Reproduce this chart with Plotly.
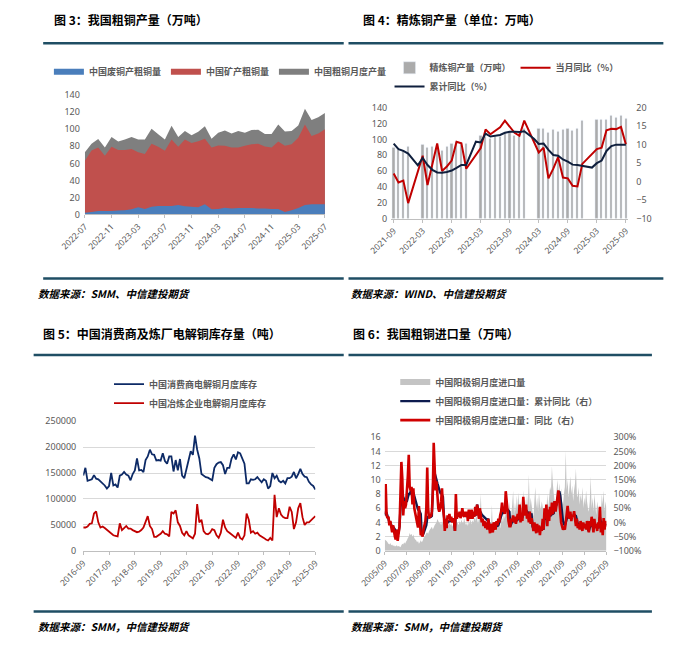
import plotly.graph_objects as go

W, H = 676, 648


def X(px):
    return px / W


def Y(py):
    return 1 - py / H


def month_labels(year, month, n, sep):
    out = []
    for _ in range(n):
        out.append(f"{year}{sep}{month:02d}")
        month += 1
        if month > 12:
            month = 1
            year += 1
    return out


# ---------------- 图3 我国粗铜产量（万吨） ----------------
fig3_months = month_labels(2022, 7, 37, "-")
fig3_scrap = [2, 3, 4, 4, 4, 4.5, 5, 6, 8.5, 6.5, 9, 10, 10, 10, 11, 9.5, 9, 8.5, 12, 6,
              6.5, 8, 7, 7.5, 7.5, 7.5, 7, 7, 6.5, 6.5, 3, 5, 7.5, 11, 12, 12, 12]
fig3_mine = [63, 75, 78.6, 69, 79.4, 75.6, 75.6, 76.7, 73, 71, 83, 79.4, 74.8, 88, 79.4, 88, 84, 86, 89, 78.6,
             81, 80.6, 78.6, 78.6, 80.6, 82.5, 83, 79.8, 78.6, 85.5, 80.6, 82.5, 90, 105.5, 92, 95, 100]
fig3_total = [72.9, 83, 88.5, 78.6, 91, 85.5, 88, 91, 88, 88, 100.5, 94, 88, 104, 91, 98, 93, 97, 103.5, 89,
              96, 98.5, 95, 98, 96, 99, 99.5, 94.5, 94.5, 105.5, 97.5, 98, 104.5, 124, 111, 114, 119]
fig3_ticks = fig3_months[::4]

# ---------------- 图4 精炼铜产量 ----------------
fig4_months = month_labels(2021, 9, 49, "-")
fig4_output = [89, 87, 86, 91, None, None, 93, 89, 91, 93, 86, 91, 94, 97, 96, 95,
               None, None, 105, 103, 101, 104, 103, 108, 110, 105, 109, 114,
               None, None, 114, 113, 109, 112, 110, 112, 113, 111, 113, 124,
               None, None, 125, 125, 125, 130, 127, 130, 126]
fig4_yoy = [2.2, -0.2, 0.3, -5.8, None, None, 7.0, -0.9, 4.7, 10.3, 2.9, 4.1, 5.7, 10.8, 10.4, 3.5,
            None, None, 9.1, 14.1, 12.8, 13.7, 14.7, 16.5, 14.7, 13.2, 12.4, 16.5,
            None, None, 7.9, 9.2, 0.9, 3.5, 6.6, 1.1, 0.9, -1.1, -1.3, 4.8,
            None, None, 8.8, 9.2, 13.9, 14.3, 14.2, 14.8, 10.1]
fig4_cum = [10.3, 8.8, 8.3, 7.6, None, 4.4, 6.4, 4.5, 3.2, 2.5, 2.4, 2.6, 3.0, 3.7, 4.5, 4.5,
            None, 10.8, 10.6, 13.0, 12.2, 12.4, 12.6, 13.2, 13.5, 13.5, 13.4, 13.6,
            None, 11.6, 10.2, 10.3, 8.6, 7.2, 7.0, 6.0, 5.4, 4.6, 4.5, 4.2,
            None, 3.8, 5.0, 5.7, 8.3, 9.6, 10.0, 10.1, 10.0]
fig4_ticks = fig4_months[::6]

# ---------------- 图5 电解铜库存（吨） ----------------
fig5_months = month_labels(2016, 9, 109, "-")
fig5_consumer = [
    145000, 160000, 135000, 137000,
    138000, 146000, 139000, 138000, 134000, 130000, 126000, 120000, 125000, 150000, 126000, 128000,
    122000, 145000, 147000, 152000, 147000, 145000, 136000, 148000, 155000, 178000, 155000, 156000,
    152000, 175000, 182000, 195000, 186000, 185000, 174000, 175000, 174000, 188000, 173000, 168000,
    182000, 182000, 153000, 175000, 155000, 177000, 145000, 140000, 158000, 175000, 192000, 185000,
    222000, 195000, 178000, 148000, 144000, 142000, 141000, 138000, 136000, 160000, 167000, 170000,
    171000, 165000, 148000, 160000, 160000, 178000, 186000, 176000, 190000, 188000, 176000, 168000,
    130000, 130000, 138000, 137000, 138000, 142000, 137000, 132000, 138000, 135000, 120000, 125000,
    150000, 140000, 145000, 135000, 132000, 135000, 130000, 140000, 140000, 143000, 152000, 140000,
    148000, 158000, 148000, 143000, 142000, 133000, 128000, 125000, 118000]
fig5_smelter = [
    45000, 45000, 47000, 52000,
    53000, 72000, 76000, 55000, 45000, 47000, 44000, 40000, 36000, 33000, 30000, 29000,
    28000, 53000, 40000, 44000, 48000, 43000, 43000, 40000, 38000, 36000, 37000, 40000,
    45000, 55000, 67000, 48000, 42000, 27000, 27000, 30000, 33000, 38000, 33000, 32000,
    28000, 75000, 72000, 78000, 55000, 48000, 35000, 30000, 38000, 30000, 26000, 24000,
    33000, 90000, 55000, 60000, 38000, 33000, 32000, 35000, 42000, 40000, 30000, 25000,
    35000, 60000, 45000, 38000, 35000, 32000, 28000, 25000, 35000, 25000, 22000, 30000,
    72000, 60000, 35000, 38000, 33000, 35000, 30000, 28000, 25000, 22000, 20000, 25000,
    20000, 108000, 65000, 82000, 70000, 65000, 63000, 63000, 85000, 75000, 42000, 55000,
    82000, 92000, 65000, 50000, 55000, 55000, 60000, 63000, 67000]
fig5_ticks = fig5_months[::12]

# ---------------- 图6 我国粗铜进口量（万吨） ----------------
fig6_months = month_labels(2005, 9, 241, "/")
fig6_import = [
    1.6, 1.5, 1.4, 1.2,
    1.0, 0.9, 1.1, 0.8, 0.9, 0.7, 0.8, 0.6, 0.7, 0.8, 0.6, 0.7,
    0.6, 0.5, 0.8, 1.0, 0.9, 1.2, 1.0, 1.3, 1.5, 1.8, 2.0, 2.5,
    2.2, 2.4, 2.0, 2.3, 1.8, 1.6, 1.5, 1.2, 1.4, 1.0, 1.2, 1.5,
    1.2, 1.4, 1.8, 2.0, 2.2, 2.5, 2.6, 2.4, 2.8, 3.0, 3.2, 3.4,
    3.0, 3.3, 3.6, 3.8, 4.0, 4.5, 4.2, 3.9, 4.0, 3.6, 4.2, 3.8,
    3.5, 3.0, 3.6, 3.2, 3.8, 3.5, 4.0, 3.6, 3.9, 3.4, 3.7, 4.2,
    3.2, 4.5, 3.8, 4.0, 3.6, 4.2, 3.8, 4.4, 4.0, 3.9, 4.6, 4.0,
    3.6, 4.0, 3.5, 4.2, 3.8, 4.5, 3.7, 4.3, 4.0, 4.8, 4.2, 5.0,
    4.5, 3.8, 4.6, 5.2, 8.0, 4.2, 4.8, 3.6, 4.0, 3.8, 4.2, 3.5,
    3.4, 3.0, 3.6, 3.2, 6.5, 3.0, 3.5, 3.2, 2.8, 3.6, 3.2, 4.0,
    3.6, 3.2, 4.2, 4.8, 4.0, 5.2, 4.5, 5.5, 4.8, 6.0, 5.0, 7.0,
    4.5, 5.2, 6.5, 8.5, 5.0, 6.8, 5.5, 7.8, 6.0, 8.2, 5.5, 7.0,
    6.0, 5.0, 8.5, 6.5, 7.2, 5.5, 8.0, 6.2, 10.8, 6.0, 7.5, 6.5,
    5.5, 4.8, 7.0, 9.0, 6.0, 7.5, 5.5, 8.2, 6.5, 5.8, 7.0, 6.2,
    5.2, 4.6, 6.5, 5.8, 8.0, 6.0, 7.5, 9.0, 8.5, 11.9, 9.5, 8.0,
    7.0, 6.5, 8.5, 10.0, 8.0, 9.5, 7.5, 8.8, 7.0, 6.5, 8.0, 9.0,
    14.1, 8.5, 10.0, 7.5, 9.0, 10.5, 8.0, 9.2, 7.0, 8.5, 9.5, 11.6,
    8.0, 7.5, 9.0, 6.5, 8.0, 7.0, 9.0, 6.0, 7.5, 6.5, 8.5, 7.0,
    6.0, 5.5, 7.0, 10.5, 6.0, 7.5, 5.5, 8.0, 6.5, 5.0, 7.0, 6.0,
    5.5, 6.5, 5.0, 8.0, 6.5, 8.5, 5.5, 7.0, 6.0]
fig6_cum_yoy = [
    25, 38, 33, 25,
    13, 0, 0, -8, -15, -15, -20, -25, -30, -30, -35, -35,
    -13, 50, 100, 113, 88, 83, 75, 73, 75, 88, 100, 100,
    113, 120, 100, 105, 93, 80, 70, 58, 45, 45, 38, 30,
    -40, -45, -38, -30, -23, -10, 15, 20, 20, 20, 20, 23,
    100, 188, 175, 155, 150, 138, 125, 113, 105, 103, 98, 90,
    25, -3, 3, -5, 0, 3, 5, 5, 8, 8, 8, 8,
    -30, 38, 28, 28, 25, 28, 25, 25, 28, 28, 28, 28,
    20, 28, 20, 25, 25, 23, 25, 25, 25, 25, 28, 28,
    63, 45, 35, 38, 35, 28, 25, 20, 18, 13, 13, 8,
    13, -5, -18, -15, -15, -18, -15, -15, -15, -13, -13, -10,
    0, 13, 20, 33, 33, 35, 35, 45, 48, 45, 40, 38,
    -13, 0, 3, 8, 5, 8, 5, 8, 10, 10, 15, 13,
    25, 15, 40, 40, 38, 43, 38, 35, 33, 33, 28, 28,
    -13, -23, -15, -18, -20, -18, -20, -20, -23, -20, -23, -18,
    -25, 13, 13, 25, 18, 23, 20, 25, 25, 30, 30, 33,
    75, 55, 63, 80, 100, 110, 95, 63, 25, 5, -5, -10,
    0, 13, 25, 25, 23, 25, 23, 23, 23, 25, 25, 23,
    13, -5, -5, -10, -8, -8, -10, -10, -10, -10, -10, -10,
    -25, -30, -18, -15, -10, -13, -15, -13, -13, -13, -15, -13,
    -20, 18, 0, 0, -10, -5, -10, -8, -10]
fig6_yoy = [
    30, 135, 25, 15,
    20, -10, 5, -25, -35, -10, -40, -50, -60, -25, -65, -38,
    -13, 100, 213, 155, 25, 75, 50, 63, 100, 163, 238, 125,
    113, 125, 63, 120, 50, 30, 13, 0, -18, 58, -25, -45,
    -40, -50, -25, -13, 5, 50, 193, 50, 13, 25, 20, 38,
    100, 280, 150, 113, 145, 75, 50, 38, 50, 75, 120, 50,
    25, -30, 13, -20, 25, 13, 30, 5, 20, 0, 15, 5,
    -30, 100, 13, 25, 20, 38, 15, 30, 50, 25, 20, 38,
    20, 38, 5, 45, 25, 13, 45, 13, 38, 20, 55, 25,
    63, 30, 13, 50, 25, 0, 13, -13, 5, -20, 0, -25,
    13, -25, -38, -5, -20, -35, 0, -13, -25, 5, -10, 13,
    0, 25, 38, 70, 38, 50, 30, 110, 63, 25, 5, -13,
    -13, 13, 5, 25, 0, 20, -5, 13, 30, 10, 63, 0,
    25, 5, 90, 38, 25, 63, 13, 30, 0, 38, -5, 15,
    -13, -30, 0, -20, -38, -5, -35, -10, -45, -15, -30, 13,
    -25, 50, 13, 63, -13, 45, 5, 55, 25, 70, 30, 50,
    75, 38, 63, 95, 113, 75, 25, 0, -13, -25, -20, -25,
    0, 25, 58, 25, 13, 38, 5, 25, 20, 40, 13, -13,
    13, -20, -5, -25, 5, -13, -30, 0, -20, -5, -25, 5,
    -25, -35, 5, -13, 20, -25, -35, 13, -20, -5, -30, 0,
    -20, 55, -35, 0, -45, 15, -25, 5, -15]
fig6_ticks = fig6_months[::24]

# ---------------- styles ----------------
CJK = "Noto Sans CJK SC"
NUM = "Noto Sans, Noto Sans CJK SC"
TICKFONT = dict(family=NUM, size=9, color="#595959")
XTICKFONT = dict(family=NUM, size=8.5, color="#595959")
LEGFONT = dict(family=CJK, size=9, color="#595959", weight="bold")
AXLINE = "#BFBFBF"
RED = "#C00000"
NAVY = "#0F1F3D"
RULE = "#1F4E64"

fig = go.Figure()

# 图3 areas (drawn back to front)
fig.add_trace(go.Scatter(x=fig3_months, y=fig3_total, name="中国粗铜月度产量", mode="none",
                         fill="tozeroy", fillcolor="#7F7F7F", xaxis="x", yaxis="y",
                         legend="legend", legendrank=3))
fig.add_trace(go.Scatter(x=fig3_months, y=fig3_mine, name="中国矿产粗铜量", mode="none",
                         fill="tozeroy", fillcolor="#C0504D", xaxis="x", yaxis="y",
                         legend="legend", legendrank=2))
fig.add_trace(go.Scatter(x=fig3_months, y=fig3_scrap, name="中国废铜产粗铜量", mode="none",
                         fill="tozeroy", fillcolor="#4A7EBB", xaxis="x", yaxis="y",
                         legend="legend", legendrank=1))

# 图4
fig.add_trace(go.Bar(x=fig4_months, y=fig4_output, name="精炼铜产量（万吨）", marker_color="#ABABAB",
                     width=0.45, xaxis="x2", yaxis="y2", legend="legend2"))
fig.add_trace(go.Scatter(x=fig4_months, y=fig4_yoy, name="当月同比（%）", mode="lines",
                         line=dict(color=RED, width=2), connectgaps=True,
                         xaxis="x2", yaxis="y3", legend="legend2"))
fig.add_trace(go.Scatter(x=fig4_months, y=fig4_cum, name="累计同比（%）", mode="lines",
                         line=dict(color=NAVY, width=2), connectgaps=True,
                         xaxis="x2", yaxis="y3", legend="legend3"))

# 图5
fig.add_trace(go.Scatter(x=fig5_months, y=fig5_consumer, name="中国消费商电解铜月度库存", mode="lines",
                         line=dict(color="#0D2A66", width=1.8), xaxis="x3", yaxis="y4", legend="legend4"))
fig.add_trace(go.Scatter(x=fig5_months, y=fig5_smelter, name="中国冶炼企业电解铜月度库存", mode="lines",
                         line=dict(color=RED, width=1.8), xaxis="x3", yaxis="y4", legend="legend4"))

# 图6
fig.add_trace(go.Scatter(x=fig6_months, y=fig6_import, name="中国阳极铜月度进口量", mode="none",
                         fill="tozeroy", fillcolor="#C4C4C4", xaxis="x4", yaxis="y5", legend="legend5"))
fig.add_trace(go.Scatter(x=fig6_months, y=fig6_cum_yoy, name="中国阳极铜月度进口量：累计同比（右）",
                         mode="lines", line=dict(color="#0D1B4F", width=2.4),
                         xaxis="x4", yaxis="y6", legend="legend5"))
fig.add_trace(go.Scatter(x=fig6_months, y=fig6_yoy, name="中国阳极铜月度进口量：同比（右）",
                         mode="lines", line=dict(color="#D00000", width=2.6),
                         xaxis="x4", yaxis="y6", legend="legend5"))


def xax(domain, anchor, rng, ticks):
    return dict(domain=domain, anchor=anchor, type="category", range=rng, tickvals=ticks, ticktext=ticks,
                tickangle=-45, tickfont=XTICKFONT, showgrid=False, zeroline=False,
                showline=True, linecolor=AXLINE, linewidth=1, ticks="outside", ticklen=3,
                tickcolor=AXLINE, fixedrange=True)


def yax(domain, anchor, rng, dtick, grid=False, **kw):
    d = dict(domain=domain, anchor=anchor, range=rng, dtick=dtick, tickfont=TICKFONT,
             showgrid=grid, gridcolor="#D9D9D9", gridwidth=1, zeroline=False, showline=False,
             ticks="", fixedrange=True)
    d.update(kw)
    return d


annotations = []
shapes = []


def title(px, py, text):
    annotations.append(dict(text=text, x=X(px), y=Y(py), xref="paper", yref="paper",
                            xanchor="left", yanchor="middle", showarrow=False,
                            font=dict(family=CJK, size=12, color="#000000", weight="bold")))


def source(px, py, text):
    annotations.append(dict(text=text, x=X(px), y=Y(py), xref="paper", yref="paper",
                            xanchor="left", yanchor="middle", showarrow=False,
                            font=dict(family=CJK, size=10.5, color="#000000", weight="bold",
                                      style="italic")))


def rule(x0, x1, py):
    shapes.append(dict(type="line", xref="paper", yref="paper", x0=X(x0), x1=X(x1),
                       y0=Y(py), y1=Y(py), line=dict(color=RULE, width=2.5)))


title(27, 13, "图 3：我国粗铜产量（万吨）")
title(351, 13, "图 4：精炼铜产量（单位：万吨）")
title(16, 333, "图 5：中国消费商及炼厂电解铜库存量（吨）")
title(341, 333, "图 6：我国粗铜进口量（万吨）")

source(10, 292, "数据来源：SMM、中信建投期货")
source(338, 292, "数据来源：WIND、中信建投期货")
source(10, 632, "数据来源：SMM，中信建投期货")
source(338, 632, "数据来源：SMM，中信建投期货")

rule(18, 333, 37)
rule(338, 668, 37)
rule(18, 333, 277)
rule(338, 668, 277)
rule(8, 333, 355)
rule(338, 656, 355)
rule(8, 333, 617)
rule(338, 656, 617)


def legend(px, py, orient="h", yanchor="middle"):
    return dict(x=X(px), y=Y(py), xanchor="left", yanchor=yanchor, orientation=orient,
                font=LEGFONT, bgcolor="rgba(0,0,0,0)", traceorder="normal",
                itemclick=False, itemdoubleclick=False, tracegroupgap=0)


fig.update_layout(
    width=W, height=H, autosize=False,
    margin=dict(l=0, r=0, t=0, b=0),
    paper_bgcolor="#FFFFFF", plot_bgcolor="rgba(0,0,0,0)",
    font=dict(family=CJK, color="#595959"),
    showlegend=True,
    xaxis=xax([X(61.7), X(313.3)], "y", [0, 36], fig3_ticks),
    yaxis=yax([Y(211.7), Y(90)], "x", [0, 140], 20, ticklabelstandoff=4),
    xaxis2=xax([X(382.8), X(631.2)], "y2", [-0.5, 48.5], fig4_ticks),
    yaxis2=yax([Y(216), Y(102.7)], "x2", [0, 140], 20, ticklabelstandoff=3),
    yaxis3=yax([Y(216), Y(102.7)], "x2", [-10, 20], 5, overlaying="y2", side="right",
               ticklabelstandoff=7),
    xaxis3=xax([X(60), X(303.3)], "y4", [0, 108], fig5_ticks),
    yaxis4=yax([Y(555), Y(422.6)], "x3", [0, 250000], 50000, grid=True, tickformat="d",
               ticklabelstandoff=6),
    xaxis4=xax([X(376), X(608.3)], "y5", [0, 240], fig6_ticks),
    yaxis5=yax([Y(555), Y(439)], "x4", [0, 16], 2, grid=True, ticklabelstandoff=3),
    yaxis6=yax([Y(555), Y(439)], "x4", [-100, 300], 50, overlaying="y5", side="right",
               ticksuffix="%", ticklabelstandoff=6),
    legend=legend(24, 66),
    legend2=legend(381, 62),
    legend3=legend(381, 81),
    legend4=legend(87, 370, "v", "top"),
    legend5=legend(387, 368, "v", "top"),
    annotations=annotations,
    shapes=shapes,
    bargap=0,
)

fig.write_html("out.html", config={"displayModeBar": False},
               post_script="document.body.style.margin='0px';document.body.style.overflow='hidden';")
